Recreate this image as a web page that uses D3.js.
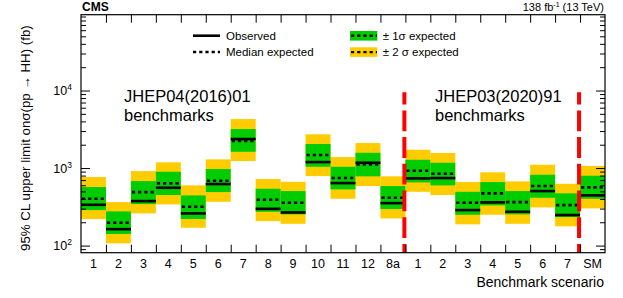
<!DOCTYPE html>
<html>
<head>
<meta charset="utf-8">
<script src="https://cdn.jsdelivr.net/npm/d3@7"></script>
<style>
  body { margin: 0; background: #fff; }
  text { font-family: "Liberation Sans", Arial, Helvetica, sans-serif; fill: #000; }
</style>
</head>
<body>
<svg id="chart" width="623" height="298"></svg>
<script>
// benchmark labels (JHEP04(2016)01 set, then JHEP03(2020)91 set, then SM)
var labels = ["1","2","3","4","5","6","7","8","9","10","11","12","8a",
              "1","2","3","4","5","6","7","SM"];
var observed = [336,163,375,557,260,622,2365,298,268,1194,640,1170,353,
                736,743,287,361,273,505,248,444];
var expected = [402,197,490,635,317,685,2230,390,357,1472,743,1117,414,
                922,844,357,472,364,586,333,564];
var sig1lo = [287,141,343,449,220,490,1622,273,253,1039,531,782,296,
              653,598,250,330,253,414,233,402];
var sig1hi = [569,276,679,896,444,971,3185,541,505,2042,1039,1574,586,
              1279,1170,494,660,505,820,472,796];
var sig2lo = [220,107,260,340,170,367,1231,207,191,788,402,586,224,
              494,449,188,250,191,311,177,302];
var sig2hi = [766,364,914,1185,598,1294,4285,721,665,2723,1386,2102,782,
              1722,1563,660,881,673,1104,627,1062];
var dividers = [13, 20]; // bin edges where the red lines sit
var yMajor = [100, 1000, 10000];

var svg = d3.select("#chart");
var L = 81, R = 605, T = 14.7, B = 252.7;

var xi = d3.scaleLinear().domain([0, labels.length]).range([L, R]);
var y = d3.scaleLog().domain([81, 95000]).range([B, T]);

var green = "#00cc00", yellow = "#ffcc00";

// bands
var g = svg.append("g");
g.selectAll("rect.s2").data(labels).enter().append("rect")
  .attr("x", function(d, i) { return xi(i); })
  .attr("width", function(d, i) { return xi(i + 1) - xi(i); })
  .attr("y", function(d, i) { return y(sig2hi[i]); })
  .attr("height", function(d, i) { return y(sig2lo[i]) - y(sig2hi[i]); })
  .attr("fill", yellow);
g.selectAll("rect.s1").data(labels).enter().append("rect")
  .attr("x", function(d, i) { return xi(i); })
  .attr("width", function(d, i) { return xi(i + 1) - xi(i); })
  .attr("y", function(d, i) { return y(sig1hi[i]); })
  .attr("height", function(d, i) { return y(sig1lo[i]) - y(sig1hi[i]); })
  .attr("fill", green);
g.selectAll("line.exp").data(labels).enter().append("line")
  .attr("x1", function(d, i) { return xi(i) + 1; })
  .attr("x2", function(d, i) { return xi(i + 1); })
  .attr("y1", function(d, i) { return y(expected[i]); })
  .attr("y2", function(d, i) { return y(expected[i]); })
  .attr("stroke", "#000").attr("stroke-width", 2.6)
  .attr("stroke-dasharray", "3.2,3");
g.selectAll("line.obs").data(labels).enter().append("line")
  .attr("x1", function(d, i) { return xi(i); })
  .attr("x2", function(d, i) { return xi(i + 1); })
  .attr("y1", function(d, i) { return y(observed[i]); })
  .attr("y2", function(d, i) { return y(observed[i]); })
  .attr("stroke", "#000").attr("stroke-width", 2.6);

// red separators
svg.selectAll("line.sep").data(dividers).enter().append("line")
  .attr("x1", function(d) { return xi(d) - 1; })
  .attr("x2", function(d) { return xi(d) - 1; })
  .attr("y1", B).attr("y2", 92.3)
  .attr("stroke", "#ff0000").attr("stroke-width", 4)
  .attr("stroke-dasharray", "20.8,5.9")
  .attr("stroke-dashoffset", 12);

// axes: ticks pointing inward
var minor = [];
[100, 1000, 10000].forEach(function(p) {
  for (var k = 2; k <= 9; k++) minor.push(k * p);
});
minor.unshift(90);
minor = minor.filter(function(v) { return v >= 81 && v <= 95000; });

function clean(sel) { sel.select(".domain").remove(); sel.selectAll("text").remove(); }

svg.append("g").attr("transform", "translate(" + L + ",0)")
  .call(d3.axisLeft(y).tickValues(yMajor).tickSize(-9)).call(clean);
svg.append("g").attr("transform", "translate(" + L + ",0)")
  .call(d3.axisLeft(y).tickValues(minor).tickSize(-5)).call(clean);
svg.append("g").attr("transform", "translate(" + R + ",0)")
  .call(d3.axisRight(y).tickValues(yMajor).tickSize(-9)).call(clean);
svg.append("g").attr("transform", "translate(" + R + ",0)")
  .call(d3.axisRight(y).tickValues(minor).tickSize(-5)).call(clean);
svg.append("g").attr("transform", "translate(0," + B + ")")
  .call(d3.axisBottom(xi).tickValues(d3.range(1, labels.length)).tickSize(-8)).call(clean);
svg.append("g").attr("transform", "translate(0," + T + ")")
  .call(d3.axisTop(xi).tickValues(d3.range(1, labels.length)).tickSize(-8)).call(clean);

svg.selectAll(".tick line").attr("stroke", "#000").attr("stroke-width", 1);

// frame
svg.append("rect").attr("x", L).attr("y", T).attr("width", R - L).attr("height", B - T)
  .attr("fill", "none").attr("stroke", "#000").attr("stroke-width", 1.2);

// y tick labels 10^n
yMajor.forEach(function(v) {
  var t = svg.append("text").attr("x", 72).attr("y", y(v) + 4.5)
    .attr("text-anchor", "end").style("font-size", "12.5px");
  t.append("tspan").text("10");
  t.append("tspan").attr("dy", -5).style("font-size", "8.5px").text(Math.round(Math.log10(v)));
});

// x tick labels
svg.selectAll("text.xl").data(labels).enter().append("text")
  .attr("x", function(d, i) { return (xi(i) + xi(i + 1)) / 2; })
  .attr("y", 267.7).attr("text-anchor", "middle")
  .style("font-size", "12.5px")
  .text(function(d) { return d; });

svg.append("text").attr("x", R - 1).attr("y", 286.5).attr("text-anchor", "end")
  .style("font-size", "14px").text("Benchmark scenario");

svg.append("text")
  .attr("transform", "translate(29.5,251) rotate(-90)")
  .style("font-size", "13.3px")
  .text("95% CL upper limit on\u03c3(pp \u2192 HH) (fb)");

// header
svg.append("text").attr("x", 82).attr("y", 11).style("font-size", "12px")
  .style("font-weight", "bold").text("CMS");
var lum = svg.append("text").attr("x", R - 1).attr("y", 11).attr("text-anchor", "end")
  .style("font-size", "11px");
lum.append("tspan").text("138 fb");
lum.append("tspan").attr("dy", -4).style("font-size", "7px").text("-1");
lum.append("tspan").attr("dy", 4).text(" (13 TeV)");

// annotations
[["JHEP04(2016)01", 124], ["JHEP03(2020)91", 435]].forEach(function(a) {
  svg.append("text").attr("x", a[1]).attr("y", 102).style("font-size", "16.5px").text(a[0]);
  svg.append("text").attr("x", a[1]).attr("y", 121).style("font-size", "16.5px").text("benchmarks");
});

// legend
var leg = svg.append("g").style("font-size", "11.5px");
leg.append("line").attr("x1", 193).attr("x2", 220).attr("y1", 35.7).attr("y2", 35.7)
  .attr("stroke", "#000").attr("stroke-width", 2.6);
leg.append("text").attr("x", 226).attr("y", 40).text("Observed");
leg.append("line").attr("x1", 193).attr("x2", 220).attr("y1", 52).attr("y2", 52)
  .attr("stroke", "#000").attr("stroke-width", 2.6).attr("stroke-dasharray", "3.2,3");
leg.append("text").attr("x", 226).attr("y", 56).text("Median expected");

[[green, 31, "\u00b1 1\u03c3 expected"], [yellow, 47.3, "\u00b1 2 \u03c3 expected"]].forEach(function(e) {
  leg.append("rect").attr("x", 350).attr("y", e[1]).attr("width", 27.3).attr("height", 9.6)
    .attr("fill", e[0]);
  leg.append("line").attr("x1", 351).attr("x2", 377).attr("y1", e[1] + 4.8).attr("y2", e[1] + 4.8)
    .attr("stroke", "#000").attr("stroke-width", 2.4).attr("stroke-dasharray", "3.2,3");
  leg.append("text").attr("x", 382.7).attr("y", e[1] + 9).text(e[2]);
});
</script>
</body>
</html>
